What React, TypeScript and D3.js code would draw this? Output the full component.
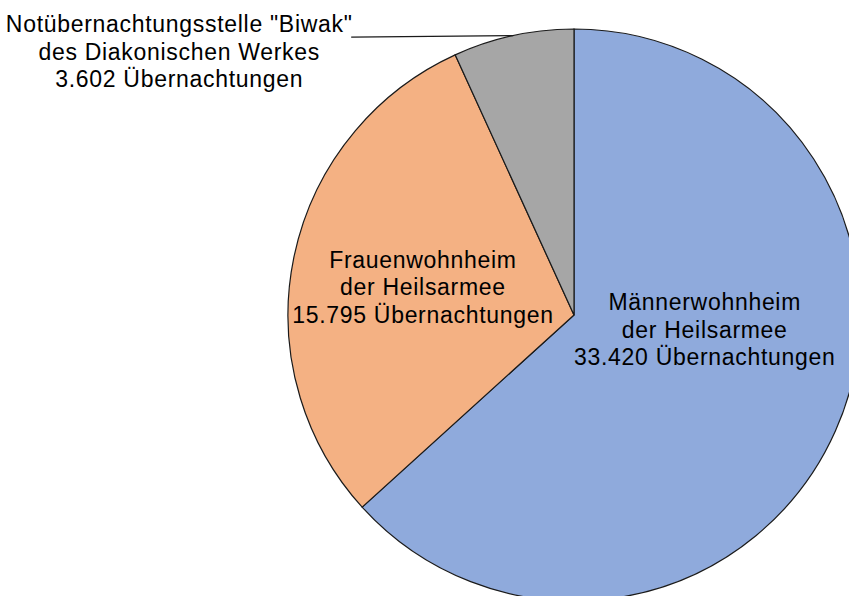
import React from "react";
import * as d3 from "d3";

const categories = [
  "Männerwohnheim der Heilsarmee",
  "Frauenwohnheim der Heilsarmee",
  'Notübernachtungsstelle "Biwak" des Diakonischen Werkes',
];
const overnights = [33420, 15795, 3602];
// label lines as printed in the chart
const labelLines = [
  ["Männerwohnheim", "der Heilsarmee", "33.420 Übernachtungen"],
  ["Frauenwohnheim", "der Heilsarmee", "15.795 Übernachtungen"],
  ['Notübernachtungsstelle "Biwak"', "des Diakonischen Werkes", "3.602 Übernachtungen"],
];
const colors = ["#8FAADC", "#F4B183", "#A6A6A6"];

const W = 849;
const H = 596;
const cx = 574;
const cy = 315;
const radius = 286;

export default function App() {
  const pie = d3
    .pie<number>()
    .sort(null)
    .value((d) => d);
  const arcs = pie(overnights);

  const arc = d3.arc<d3.PieArcDatum<number>>().innerRadius(0).outerRadius(radius);
  const rimArc = d3.arc<d3.PieArcDatum<number>>().innerRadius(radius).outerRadius(radius);
  const labelArc = d3
    .arc<d3.PieArcDatum<number>>()
    .innerRadius(radius * 0.5)
    .outerRadius(radius * 0.5);

  const lineGap = 27.5;
  const fontSize = 23;
  const spacing = 0.7;

  // nudges for the inside labels (Excel "best fit" placement)
  const nudge = [
    [0, -43],
    [-11, 1],
  ];

  return (
    <svg
      width={W}
      height={H}
      style={{ position: "absolute", left: 0, top: 0, background: "#fff" }}
      fontFamily="'Liberation Sans', Arial, sans-serif"
    >
      <g transform={`translate(${cx},${cy})`}>
        {arcs.map((a, i) => (
          <path
            key={categories[i]}
            d={arc(a) || ""}
            fill={colors[i]}
            stroke="#1a1a1a"
            strokeWidth={1.2}
          />
        ))}
        {arcs.slice(0, 2).map((a, i) => {
          const [x, y] = labelArc.centroid(a);
          const lx = x + nudge[i][0];
          const ly = y + nudge[i][1];
          return (
            <text
              key={"l" + i}
              textAnchor="middle"
              fontSize={fontSize}
              letterSpacing={spacing}
              fill="#000"
            >
              {labelLines[i].map((t, j) => (
                <tspan key={j} x={lx} y={ly + (j - 1) * lineGap + 8}>
                  {t}
                </tspan>
              ))}
            </text>
          );
        })}
        {(() => {
          const a = arcs[2];
          const [px, py] = rimArc.centroid(a);
          const ex = px - 162;
          const ey = py + 1.5;
          const tx = ex - 172;
          return (
            <g>
              <line x1={px} y1={py} x2={ex} y2={ey} stroke="#1a1a1a" strokeWidth={1.2} />
              <text textAnchor="middle" fontSize={fontSize} letterSpacing={spacing} fill="#000">
                {labelLines[2].map((t, j) => (
                  <tspan key={j} x={tx} y={ey - 5 + j * lineGap}>
                    {t}
                  </tspan>
                ))}
              </text>
            </g>
          );
        })()}
      </g>
    </svg>
  );
}
